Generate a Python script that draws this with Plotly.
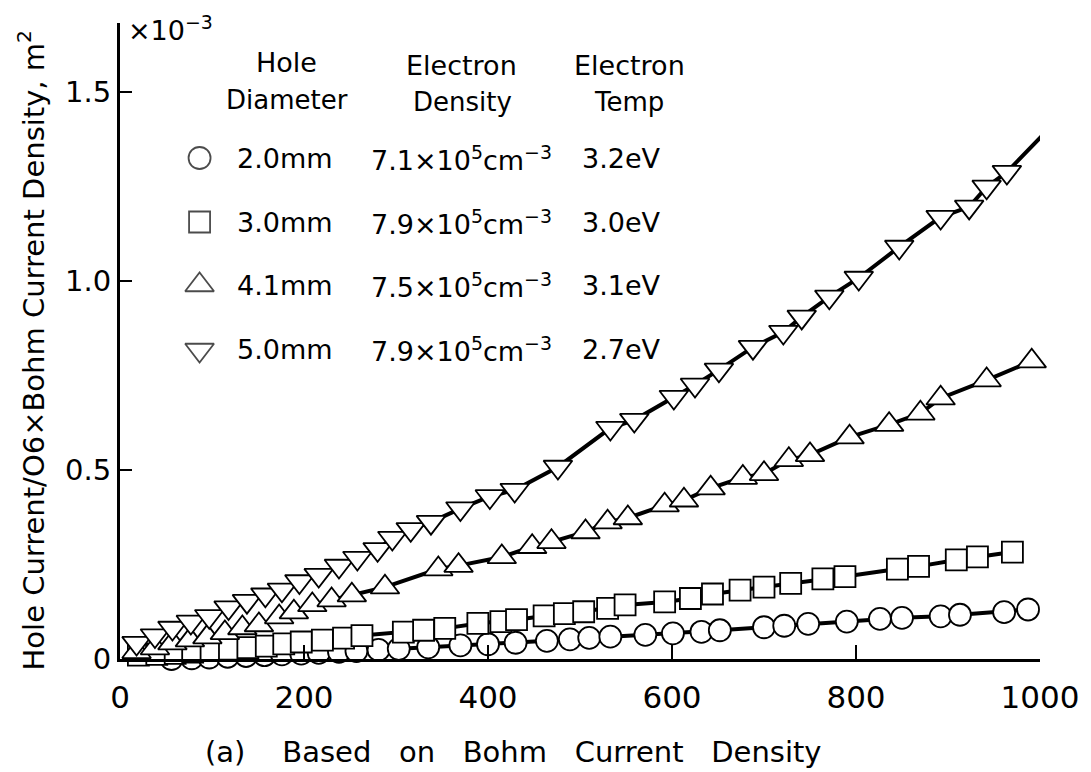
import plotly.graph_objects as go

# ---------------- data (x: arbitrary units 0-1000, y: ×10^-3 m^2) ----------------
x_20 = [14, 38, 56, 78, 97, 117, 137, 157, 176, 197, 216, 238, 257, 281, 303, 335, 370, 400,
        430, 464, 489, 510, 533, 571, 601, 632, 652, 700, 722, 748, 790, 826, 850, 892, 913, 961, 987]
y_20 = [-0.004, -0.002, 0.0, 0.002, 0.004, 0.006, 0.008, 0.010, 0.012, 0.014, 0.016, 0.019, 0.021,
        0.024, 0.027, 0.031, 0.036, 0.039, 0.043, 0.048, 0.052, 0.056, 0.059, 0.064, 0.068, 0.072,
        0.076, 0.084, 0.088, 0.093, 0.099, 0.106, 0.109, 0.113, 0.117, 0.124, 0.131]

x_30 = [20, 40, 60, 79, 99, 119, 139, 159, 178, 197, 220, 243, 263, 308, 330, 353, 389, 414, 431,
        461, 483, 504, 530, 549, 592, 620, 644, 674, 700, 729, 764, 788, 845, 868, 909, 932, 970]
y_30 = [0.010, 0.012, 0.015, 0.018, 0.022, 0.026, 0.030, 0.034, 0.040, 0.045, 0.050, 0.055, 0.062,
        0.071, 0.076, 0.081, 0.094, 0.099, 0.104, 0.114, 0.120, 0.125, 0.134, 0.143, 0.151, 0.160,
        0.172, 0.182, 0.190, 0.200, 0.212, 0.218, 0.238, 0.245, 0.262, 0.270, 0.283]

x_41 = [18, 38, 57, 76, 95, 114, 133, 151, 173, 189, 209, 230, 252, 288, 346, 368, 415, 448, 469,
        506, 530, 552, 592, 613, 642, 677, 700, 727, 750, 793, 836, 870, 892, 942, 991]
y_41 = [0.019, 0.029, 0.042, 0.050, 0.058, 0.069, 0.082, 0.090, 0.111, 0.124, 0.143, 0.156, 0.169,
        0.190, 0.238, 0.247, 0.270, 0.297, 0.310, 0.336, 0.362, 0.373, 0.407, 0.420, 0.452, 0.480,
        0.490, 0.527, 0.540, 0.587, 0.620, 0.650, 0.690, 0.738, 0.788]

x_50 = [18, 38, 57, 77, 97, 118, 138, 158, 176, 195, 216, 238, 258, 280, 296, 316, 338, 370, 402,
        429, 476, 533, 559, 602, 625, 651, 688, 721, 741, 771, 803, 847, 892, 923, 942, 964, 1003]
y_50 = [0.042, 0.062, 0.082, 0.098, 0.113, 0.136, 0.153, 0.170, 0.183, 0.205, 0.222, 0.246, 0.267,
        0.290, 0.320, 0.343, 0.362, 0.398, 0.430, 0.447, 0.508, 0.611, 0.632, 0.693, 0.725, 0.765,
        0.825, 0.865, 0.905, 0.958, 1.008, 1.090, 1.169, 1.196, 1.249, 1.288, 1.386]

series = [
    ("2.0mm", "7.1×10<sup>5</sup>cm<sup>−3</sup>", "3.2eV", "circle", 22, x_20, y_20),
    ("3.0mm", "7.9×10<sup>5</sup>cm<sup>−3</sup>", "3.0eV", "square", 21, x_30, y_30),
    ("4.1mm", "7.5×10<sup>5</sup>cm<sup>−3</sup>", "3.1eV", "triangle-up", 25, x_41, y_41),
    ("5.0mm", "7.9×10<sup>5</sup>cm<sup>−3</sup>", "2.7eV", "triangle-down", 25, x_50, y_50),
]

x_ticks = [0, 200, 400, 600, 800, 1000]
y_ticks = [0, 0.5, 1.0, 1.5]
y_tick_text = ["0", "0.5", "1.0", "1.5"]

# ---------------- layout geometry (pixels) ----------------
W, H = 1091, 772
L, R, T, B = 120, 1045, 23, 659
FONT = "DejaVu Sans"


def px(x):
    return (x - L) / (R - L)


def py(y):
    return (B - y) / (B - T)


fig = go.Figure()

for name, dens, temp, sym, msize, xs, ys in series:
    fig.add_trace(go.Scatter(
        x=xs, y=ys, mode="lines+markers",
        line=dict(color="black", width=4),
        marker=dict(symbol=sym, size=msize, color="white",
                    line=dict(color="black", width=1.8)),
        cliponaxis=False, showlegend=False, hoverinfo="skip"))

# legend markers on an overlay axis (paper-like 0..1)
leg_rows_y = [158, 222, 285, 350]
fig.add_trace(go.Scatter(
    x=[px(200)] * 4, y=[py(v) for v in leg_rows_y], mode="markers",
    marker=dict(symbol=[s[3] for s in series], size=[s[4] for s in series], color="white",
                line=dict(color="black", width=1.8)),
    xaxis="x2", yaxis="y2", showlegend=False, hoverinfo="skip", cliponaxis=False))

ann = []


def add_text(text, x, y, size, xanchor="left", **kw):
    ann.append(dict(text=text, x=px(x), y=py(y), xref="paper", yref="paper",
                    xanchor=xanchor, yanchor="middle", showarrow=False,
                    font=dict(family=FONT, size=size, color="black"), **kw))


# header
add_text("Hole", 287, 63, 27, "center")
add_text("Diameter", 288, 100, 26, "center")
add_text("Electron", 463, 65, 27, "center")
add_text("Density", 464, 102, 26, "center")
add_text("Electron", 632, 65, 27, "center")
add_text("Temp", 632, 102, 26, "center")
for (name, dens, temp, sym, msize, xs, ys), yy in zip(series, leg_rows_y):
    add_text(name, 236, yy, 27)
    add_text(dens, 370, yy, 27)
    add_text(temp, 583, yy, 27)

# multiplier
add_text("×10<sup>−3</sup>", 126, 28, 27)
# y-axis title
add_text("Hole Current/O6×Bohm Current Density, m<sup>2</sup>", 31, 350, 29, "center", textangle=-90)
# caption
add_text("(a)    Based   on   Bohm   Current   Density", 515, 752, 29, "center")

fig.update_layout(
    width=W, height=H,
    margin=dict(l=L, r=W - R, t=T, b=H - B, pad=0),
    paper_bgcolor="white", plot_bgcolor="white",
    font=dict(family=FONT, color="black"),
    annotations=ann,
    xaxis=dict(range=[0, 1000], tickvals=x_ticks, ticks="inside", ticklen=14, tickwidth=2,
               tickcolor="black", showline=True, linecolor="black", linewidth=2.5,
               showgrid=False, zeroline=False, tickfont=dict(family=FONT, size=31),
               ticklabelstandoff=9),
    yaxis=dict(range=[0, (B - T) / 378], tickvals=y_ticks, ticktext=y_tick_text,
               ticks="inside", ticklen=12, tickwidth=2, tickcolor="black",
               showline=True, linecolor="black", linewidth=3, showgrid=False,
               zeroline=False, tickfont=dict(family=FONT, size=29), ticklabelstandoff=0),
    xaxis2=dict(range=[0, 1], overlaying="x", visible=False),
    yaxis2=dict(range=[0, 1], overlaying="y", visible=False),
)

fig.write_html("out.html")
